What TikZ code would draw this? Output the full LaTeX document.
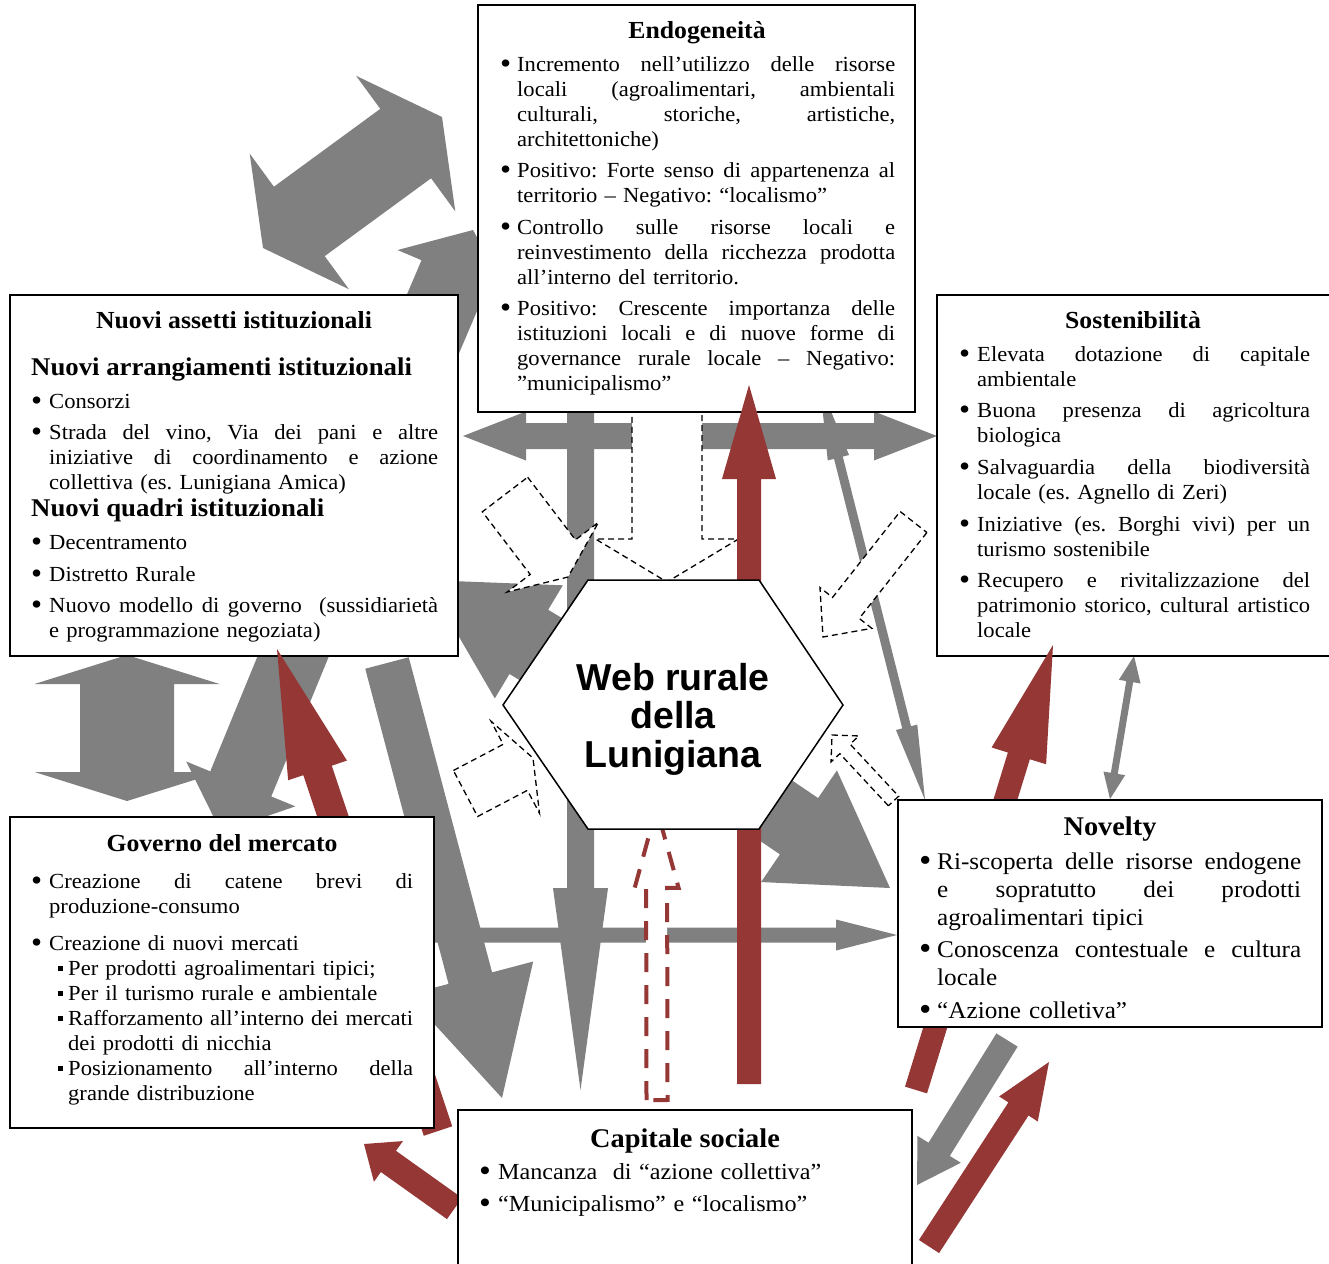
\documentclass[tikz,border=0pt]{standalone}
\usepackage{fontspec}
\setmainfont{Liberation Serif}[FakeStretch=1.05]
\newfontfamily\hexfont{Liberation Sans}
\usetikzlibrary{calc}

\definecolor{arrgray}{RGB}{128,128,128}
\definecolor{arrred}{RGB}{149,55,53}

% text helpers: justified line, bullet, hanging indent, square sub-bullet
\newlength\jw
\newlength\bw
\newcommand\jline[2][\jw]{\makebox[#1][s]{\spaceskip=0pt\xspaceskip=0pt #2}}
\newcommand\bul{\strut\makebox[\bw][l]{\raisebox{-0.09em}{\scalebox{1.4}{\textbullet}}}}
\newcommand\ind{\strut\hspace*{\bw}}
\newcommand\sqb{\strut\hspace*{27pt}\makebox[10pt][l]{\rule[0.2em]{0.24em}{0.24em}}}
\newcommand\sqi{\strut\hspace*{37pt}}

\newcommand\bodyfont{\fontsize{21.5}{25}\selectfont\parindent=0pt\parskip=0pt\frenchspacing}
\newcommand\novfont{\fontsize{24}{28}\selectfont\parindent=0pt\parskip=0pt\frenchspacing}
\newcommand\capfont{\fontsize{23}{32}\selectfont\parindent=0pt\parskip=0pt\frenchspacing}
\newcommand\ttlfont{\bfseries\fontsize{24.5}{29}\selectfont}
\newcommand\subfont{\bfseries\fontsize{25.5}{30}\selectfont}
\newcommand\bigttl{\bfseries\fontsize{27}{32}\selectfont}

% block arrow: style, start, tip, shaft width, head width, head length
\newcommand{\onearrow}[6]{%
  \coordinate (arB) at ($(#3)!#6pt!(#2)$);
  \path[#1] ($(#2)!#4pt/2!90:(#3)$) -- ($(arB)!#4pt/2!90:(#3)$)
    -- ($(arB)!#5pt/2!90:(#3)$) -- (#3)
    -- ($(arB)!#5pt/2!-90:(#3)$) -- ($(arB)!#4pt/2!-90:(#3)$)
    -- ($(#2)!#4pt/2!-90:(#3)$) -- cycle;}
% double block arrow: style, tip A, tip B, shaft width, head width, head length
\newcommand{\twoarrow}[6]{%
  \coordinate (arP) at ($(#2)!#6pt!(#3)$);
  \coordinate (arQ) at ($(#3)!#6pt!(#2)$);
  \path[#1] (#2) -- ($(arP)!#5pt/2!90:(#3)$) -- ($(arP)!#4pt/2!90:(#3)$)
    -- ($(arQ)!#4pt/2!90:(#3)$) -- ($(arQ)!#5pt/2!90:(#3)$) -- (#3)
    -- ($(arQ)!#5pt/2!-90:(#3)$) -- ($(arQ)!#4pt/2!-90:(#3)$)
    -- ($(arP)!#4pt/2!-90:(#3)$) -- ($(arP)!#5pt/2!-90:(#3)$) -- cycle;}

\tikzset{
  grayarrow/.style={fill=arrgray},
  redarrow/.style={fill=arrred},
  dasharrow/.style={draw=black, fill=white, line width=1.3pt, dash pattern=on 6pt off 4pt},
  reddash/.style={draw=arrred, fill=white, line width=4pt, dash pattern=on 19pt off 13pt},
  box/.style={draw, line width=1.8pt, fill=white, anchor=north west, inner sep=0pt, outer sep=0pt},
  txt/.style={anchor=north west, inner sep=0pt, text width=460pt, align=left, font=\bodyfont},
  ttl/.style={anchor=base, inner sep=0pt, font=\ttlfont},
  subttl/.style={anchor=base west, inner sep=0pt, font=\subfont},
  webtext/.style={align=center, inner sep=0pt, font=\hexfont\bfseries\fontsize{37.5}{38.5}\selectfont},
}

\begin{document}
\begin{tikzpicture}[x=1pt, y=-1pt]
\fill[white] (0,0) rectangle (1329,1263);
\path[use as bounding box] (0,0) rectangle (1329,1263);

% ---------- gray arrows ----------
\coordinate (g1a) at (263,248);   \coordinate (g1b) at (442,117);
\twoarrow{grayarrow}{g1a}{g1b}{86}{168}{45}
\coordinate (g2s) at (415,366);   \coordinate (g2e) at (473,230);
\onearrow{grayarrow}{g2s}{g2e}{71}{123}{48}
\coordinate (g3a) at (463,436);   \coordinate (g3b) at (937,436);
\twoarrow{grayarrow}{g3a}{g3b}{26}{49}{63}
\coordinate (g4s) at (580.5,400); \coordinate (g4e) at (580.5,1090);
\onearrow{grayarrow}{g4s}{g4e}{27}{55}{202}
\coordinate (g5a) at (820,385);   \coordinate (g5b) at (925,800);
\twoarrow{grayarrow}{g5a}{g5b}{9}{22}{75}
\coordinate (g6a) at (1134,656);  \coordinate (g6b) at (1110,799);
\twoarrow{grayarrow}{g6a}{g6b}{7}{22}{26}
\coordinate (g7s) at (434,935);   \coordinate (g7e) at (897,935);
\onearrow{grayarrow}{g7s}{g7e}{15}{31}{61}
\coordinate (g8s) at (387,663);   \coordinate (g8e) at (502,1098);
\onearrow{grayarrow}{g8s}{g8e}{45}{130}{124}
\coordinate (g9s) at (318,596);   \coordinate (g9e) at (221,832);
\onearrow{grayarrow}{g9s}{g9e}{66}{118}{52}
\coordinate (g10a) at (127,655);  \coordinate (g10b) at (127,801);
\twoarrow{grayarrow}{g10a}{g10b}{94}{185}{29}
\coordinate (g11s) at (657,719);  \coordinate (g11e) at (426,580);
\onearrow{grayarrow}{g11s}{g11e}{75}{132}{120}
\coordinate (g12s) at (675,742);  \coordinate (g12e) at (890,888);
\onearrow{grayarrow}{g12s}{g12e}{68}{135}{110}
\coordinate (g13s) at (1007,1040); \coordinate (g13e) at (917,1185);
\onearrow{grayarrow}{g13s}{g13e}{25}{51}{42}

% ---------- dashed white arrows ----------
\coordinate (d1s) at (667,405);   \coordinate (d1e) at (667,582);
\onearrow{dasharrow}{d1s}{d1e}{70}{143}{43}
\coordinate (d2s) at (505,494.5); \coordinate (d2e) at (568,577);
\onearrow{dasharrow}{d2s}{d2e}{57}{115}{25}
\coordinate (d3s) at (913.5,522); \coordinate (d3e) at (823,637);
\onearrow{dasharrow}{d3s}{d3e}{34}{66}{37}
\coordinate (d4s) at (465.5,793.5); \coordinate (d4e) at (533,758);
\onearrow{dasharrow}{d4s}{d4e}{52}{104}{20}
\coordinate (d5s) at (893.5,801); \coordinate (d5e) at (832,735);
\onearrow{dasharrow}{d5s}{d5e}{14}{38}{19}
\coordinate (rds) at (657,1100);  \coordinate (rde) at (656.5,808);
\onearrow{reddash}{rds}{rde}{21}{44}{80}

% ---------- upper boxes ----------
\node[box, minimum width=437pt, minimum height=407pt] (endo) at (478,5) {};
\node[ttl] (endot) at (697,39) {Endogeneità};
\node[txt] (endob) at (500,53.5) {\setlength\bw{17pt}\setlength\jw{378pt}%
\bul\jline{Incremento nell’utilizzo delle risorse}\\
\ind\jline{locali (agroalimentari, ambientali}\\
\ind\jline{culturali, storiche, artistiche,}\\
\ind architettoniche)\\[6.5pt]
\bul\jline{Positivo: Forte senso di appartenenza al}\\
\ind territorio – Negativo:\ “localismo”\\[6.5pt]
\bul\jline{Controllo sulle risorse locali e}\\
\ind\jline{reinvestimento della ricchezza prodotta}\\
\ind all’interno del territorio.\\[6.5pt]
\bul\jline{Positivo: Crescente importanza delle}\\
\ind\jline{istituzioni locali e di nuove forme di}\\
\ind\jline{governance rurale locale – Negativo:}\\
\ind ”municipalismo”};

\node[box, minimum width=448pt, minimum height=361pt] (nuovi) at (10,295) {};
\node[ttl] (nuovit) at (234,328) {Nuovi assetti istituzionali};
\node[subttl] (nuovih1) at (31,375) {Nuovi arrangiamenti istituzionali};
\node[txt] (nuovib1) at (31,390.5) {\setlength\bw{18pt}\setlength\jw{389pt}%
\bul Consorzi\\[6pt]
\bul\jline{Strada del vino, Via dei pani e altre}\\
\ind\jline{iniziative di coordinamento e azione}\\
\ind collettiva (es. Lunigiana Amica)};
\node[subttl] (nuovih2) at (31,516) {Nuovi quadri istituzionali};
\node[txt] (nuovib2) at (31,531.5) {\setlength\bw{18pt}\setlength\jw{389pt}%
\bul Decentramento\\[7pt]
\bul Distretto Rurale\\[6pt]
\bul\jline{Nuovo modello di governo\ \ (sussidiarietà}\\
\ind e programmazione negoziata)};

\node[box, minimum width=430pt, minimum height=361pt] (sost) at (937,295) {};
\node[ttl] (sostt) at (1133,328) {Sostenibilità};
\node[txt] (sostb) at (959,343.5) {\setlength\bw{18pt}\setlength\jw{333pt}%
\bul\jline{Elevata dotazione di capitale}\\
\ind ambientale\\[6pt]
\bul\jline{Buona presenza di agricoltura}\\
\ind biologica\\[7pt]
\bul\jline{Salvaguardia della biodiversità}\\
\ind locale (es. Agnello di Zeri)\\[7pt]
\bul\jline{Iniziative (es. Borghi vivi) per un}\\
\ind turismo sostenibile\\[6pt]
\bul\jline{Recupero e rivitalizzazione del}\\
\ind\jline{patrimonio storico, cultural artistico}\\
\ind locale};

% ---------- red arrows ----------
\coordinate (r1s) at (749,1084);   \coordinate (r1e) at (749,385);
\onearrow{redarrow}{r1s}{r1e}{24}{54}{94}
\coordinate (r2s) at (438,1131);   \coordinate (r2e) at (277,649);
\onearrow{redarrow}{r2s}{r2e}{30}{62}{128}
\coordinate (r3s) at (454.5,1208.5); \coordinate (r3e) at (364,1144);
\onearrow{redarrow}{r3s}{r3e}{26}{50}{30}
\coordinate (r4s) at (929,1246.5); \coordinate (r4e) at (1049,1062);
\onearrow{redarrow}{r4s}{r4e}{24}{46}{56}
\coordinate (r5s) at (916,1090);   \coordinate (r5e) at (1053,645);
\onearrow{redarrow}{r5s}{r5e}{23}{57}{116}

% ---------- lower boxes ----------
\node[box, minimum width=424pt, minimum height=311pt] (gov) at (10,817) {};
\node[ttl] (govt) at (222,851) {Governo del mercato};
\node[txt] (govb) at (31,870.5) {\setlength\bw{18pt}\setlength\jw{364pt}%
\bul\jline{Creazione di catene brevi di}\\
\ind produzione-consumo\\[12pt]
\bul Creazione di nuovi mercati\\
\sqb Per prodotti agroalimentari tipici;\\
\sqb Per il turismo rurale e ambientale\\
\sqb\jline[345pt]{Rafforzamento all’interno dei mercati}\\
\sqi dei prodotti di nicchia\\
\sqb\jline[345pt]{Posizionamento all’interno della}\\
\sqi grande distribuzione};

\node[box, minimum width=424pt, minimum height=227pt] (nov) at (898,800) {};
\node[ttl, font=\bigttl] (novt) at (1110,835) {Novelty};
\node[txt, font=\novfont] (novb) at (919,849.4) {\setlength\bw{18pt}\setlength\jw{364pt}%
\bul\jline{Ri-scoperta delle risorse endogene}\\
\ind\jline{e sopratutto dei prodotti}\\
\ind agroalimentari tipici\\[4pt]
\bul\jline{Conoscenza contestuale e cultura}\\
\ind locale\\[5pt]
\bul “Azione colletiva”};

\node[box, minimum width=454pt, minimum height=200pt] (capi) at (458,1110) {};
\node[ttl, font=\bigttl] (capit) at (685,1147) {Capitale sociale};
\node[txt, font=\capfont] (capib) at (479,1156.6) {\setlength\bw{19pt}%
\bul Mancanza\ \ di “azione collettiva”\\
\bul “Municipalismo” e “localismo”};

% ---------- central hexagon ----------
\coordinate (h1) at (588,580); \coordinate (h2) at (759,580);
\coordinate (h3) at (843,705); \coordinate (h4) at (759,829);
\coordinate (h5) at (588,829); \coordinate (h6) at (503,705);
\draw[line width=1.5pt, fill=white, line join=miter] (h1) -- (h2) -- (h3) -- (h4) -- (h5) -- (h6) -- cycle;
\node[webtext] (web) at (673,719) {Web rurale\\della\\Lunigiana};
\end{tikzpicture}
\end{document}
